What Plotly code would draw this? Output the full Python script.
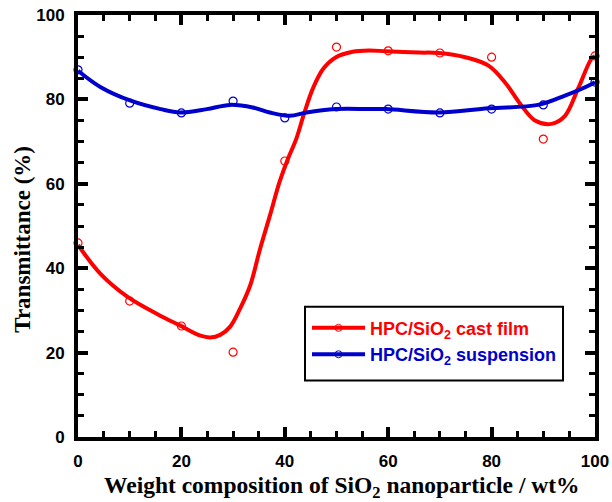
import plotly.graph_objects as go

wt = [0, 10, 20, 30, 40, 50, 60, 70, 80, 90, 100]
film = [46.0, 32.2, 26.3, 20.1, 65.4, 92.4, 91.5, 91.0, 90.0, 70.6, 90.3]
susp = [87.0, 79.1, 76.8, 79.6, 75.6, 78.2, 77.7, 76.8, 77.7, 78.7, 84.1]

# smoothed curves as drawn in the picture
film_fit_x = [0, 4.4, 9.6, 16, 19.8, 23.7, 25.6, 27.5, 29.4, 31.3, 33.3, 35.2, 37.1, 39.0,
              40.6, 42.2, 43.8, 45.4, 47.4, 49.9, 53.1, 56.3, 59.6, 66, 69.8, 74.9, 79.4,
              82.6, 85.8, 88.4, 91.6, 94.2, 96.7, 99.3, 100]
film_fit_y = [45.5, 38.6, 33.2, 28.7, 26.4, 24.0, 23.6, 24.2, 26.1, 30.3, 35.9, 44.5, 52.4, 60.5,
              65.9, 70.6, 76.9, 82.5, 87.2, 90.0, 91.3, 91.6, 91.4, 91.1, 91.0, 90.0, 88.0,
              84.0, 78.5, 75.0, 74.2, 76.1, 82.5, 89.6, 90.3]
susp_fit_x = [0, 4.4, 10.2, 16, 19.8, 24.9, 29.4, 33.8, 37.1, 41, 44.2, 49.9, 56.3, 59.6,
              69.8, 79.4, 89, 94.2, 99.3, 100]
susp_fit_y = [86.8, 82.9, 79.7, 77.7, 76.9, 77.7, 78.7, 78.1, 76.9, 76.1, 76.9, 77.7, 77.7, 77.7,
              76.9, 77.9, 78.7, 80.9, 83.6, 84.1]

x_ticks = [0, 20, 40, 60, 80, 100]
y_ticks = [0, 20, 40, 60, 80, 100]

RED = "#FF0000"
BLUE = "#0000CC"

fig = go.Figure()
fig.add_trace(go.Scatter(x=film_fit_x, y=film_fit_y, mode="lines",
                         line=dict(color=RED, width=4, shape="spline", smoothing=1),
                         showlegend=False, hoverinfo="skip"))
fig.add_trace(go.Scatter(x=susp_fit_x, y=susp_fit_y, mode="lines",
                         line=dict(color=BLUE, width=4, shape="spline", smoothing=1),
                         showlegend=False, hoverinfo="skip"))
fig.add_trace(go.Scatter(x=wt, y=film, mode="markers", cliponaxis=False,
                         marker=dict(symbol="circle-open", size=8, color=RED, line=dict(width=1.2)),
                         showlegend=False))
fig.add_trace(go.Scatter(x=wt, y=susp, mode="markers", cliponaxis=False,
                         marker=dict(symbol="circle-open", size=8, color=BLUE, line=dict(width=1.2)),
                         showlegend=False))
# legend entries
fig.add_trace(go.Scatter(x=[None], y=[None], mode="lines+markers",
                         line=dict(color=RED, width=4),
                         marker=dict(symbol="circle-open", size=7, color=RED),
                         name=f'<span style="color:{RED}">HPC/SiO<sub>2</sub> cast film</span>'))
fig.add_trace(go.Scatter(x=[None], y=[None], mode="lines+markers",
                         line=dict(color=BLUE, width=4),
                         marker=dict(symbol="circle-open", size=7, color=BLUE),
                         name=f'<span style="color:{BLUE}">HPC/SiO<sub>2</sub> suspension</span>'))

tickfont = dict(family="Liberation Sans, Arial", size=17, color="black", weight="bold")
common = dict(showline=True, linewidth=4, linecolor="black", mirror="allticks",
              ticks="inside", ticklen=10, tickwidth=4, tickcolor="black",
              showgrid=False, zeroline=False, tickfont=tickfont, automargin=False,
              minor=dict(ticks="inside", ticklen=6, tickwidth=3, tickcolor="black", dtick=5))

fig.update_xaxes(range=[0, 100], tickvals=x_ticks, ticktext=[str(v) for v in x_ticks],
                 ticklabelstandoff=6, **common)
fig.update_yaxes(range=[0, 100], tickvals=y_ticks, ticktext=[str(v) for v in y_ticks],
                 ticklabelstandoff=6, **common)

L, R, T, B = 78, 595, 15, 437.5
W, H = R - L, B - T


def px_x(p):
    return (p - L) / W


def px_y(p):
    return (B - p) / H


fig.add_annotation(text="Weight composition of SiO<sub>2</sub> nanoparticle / wt%",
                   xref="paper", yref="paper", x=px_x(102), y=px_y(488),
                   xanchor="left", yanchor="middle", showarrow=False,
                   font=dict(family="Liberation Serif, Times New Roman", size=23.5,
                             color="black", weight="bold"))
fig.add_annotation(text="Transmittance (%)", textangle=-90,
                   xref="paper", yref="paper", x=px_x(23), y=px_y(240),
                   xanchor="center", yanchor="middle", showarrow=False,
                   font=dict(family="Liberation Serif, Times New Roman", size=23,
                             color="black", weight="bold"))
# legend frame
fig.add_shape(type="rect", xref="paper", yref="paper",
              x0=px_x(305), x1=px_x(563), y0=px_y(381), y1=px_y(307),
              line=dict(color="black", width=2), fillcolor="white", layer="above")

fig.update_layout(
    width=612, height=502,
    margin=dict(l=L, r=612 - R, t=T, b=502 - B, autoexpand=False),
    paper_bgcolor="white", plot_bgcolor="white",
    legend=dict(x=px_x(307), y=px_y(310), xanchor="left", yanchor="top",
                bgcolor="rgba(0,0,0,0)", borderwidth=0,
                font=dict(family="Liberation Sans, Arial", size=18, weight="bold"),
                itemwidth=53, tracegroupgap=0),
)

fig.write_html("out.html", config={"displayModeBar": False},
               post_script="document.documentElement.style.margin='0';"
                           "document.body.style.margin='0';document.body.style.padding='0';"
                           "document.body.style.overflow='hidden';")
